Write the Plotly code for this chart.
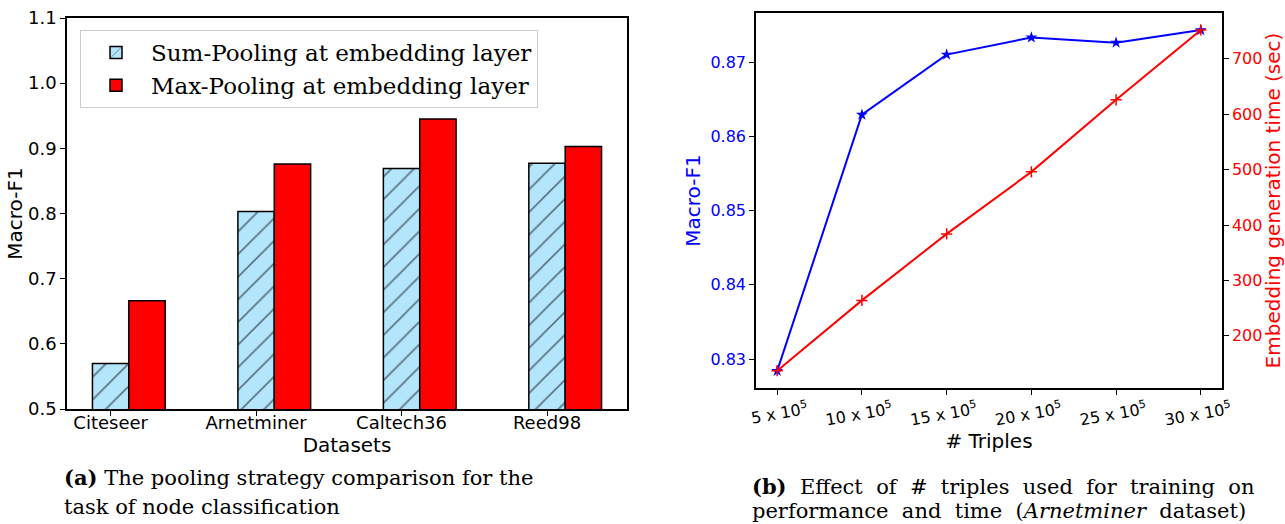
import plotly.graph_objects as go

# ---------------- data ----------------
datasets = ["Citeseer", "Arnetminer", "Caltech36", "Reed98"]
sum_pooling = [0.570, 0.803, 0.869, 0.877]
max_pooling = [0.666, 0.876, 0.945, 0.903]

triples = [5, 10, 15, 20, 25, 30]          # in units of 10^5
triple_labels = ["5 x 10<sup>5</sup>", "10 x 10<sup>5</sup>", "15 x 10<sup>5</sup>",
                 "20 x 10<sup>5</sup>", "25 x 10<sup>5</sup>", "30 x 10<sup>5</sup>"]
macro_f1 = [0.8284, 0.8629, 0.8710, 0.8733, 0.8726, 0.8743]
emb_time = [137, 264, 384, 496, 626, 752]

left_yticks = [0.5, 0.6, 0.7, 0.8, 0.9, 1.0, 1.1]
f1_ticks = [0.83, 0.84, 0.85, 0.86, 0.87]
time_ticks = [200, 300, 400, 500, 600, 700]

W, H = 1285, 524
SANS = "DejaVu Sans"
SERIF = "DejaVu Serif"
CAP = "DejaVu Serif"
SP = " &nbsp;"   # widened word gap to mimic the justified caption lines

def px_x(p):
    return p / W

def px_y(p):
    return 1 - p / H

pos = list(range(len(datasets)))
bar_w = 0.25

fig = go.Figure()

fig.add_trace(go.Bar(
    x=pos, y=sum_pooling, width=bar_w, name="Sum-Pooling at embedding layer",
    marker=dict(color="#b3e5fc", line=dict(color="black", width=1.5),
                pattern=dict(shape="/", fgcolor="#000000", size=16, solidity=0.1,
                             fillmode="overlay")),
    xaxis="x", yaxis="y",
))
fig.add_trace(go.Bar(
    x=[p + bar_w for p in pos], y=max_pooling, width=bar_w,
    name="Max-Pooling at embedding layer",
    marker=dict(color="#ff0000", line=dict(color="black", width=1.5)),
    xaxis="x", yaxis="y",
))

fig.add_trace(go.Scatter(
    x=triples, y=macro_f1, mode="lines+markers", showlegend=False,
    line=dict(color="#0000ff", width=2),
    marker=dict(symbol="star", size=9, color="#0000ff"),
    xaxis="x2", yaxis="y2",
))
fig.add_trace(go.Scatter(
    x=triples, y=emb_time, mode="lines+markers", showlegend=False,
    line=dict(color="#ff0000", width=2),
    marker=dict(symbol="cross-thin", size=8, line=dict(color="#ff0000", width=1.5)),
    xaxis="x2", yaxis="y3",
))

axis_common = dict(showgrid=False, zeroline=False, showline=True, linecolor="black",
                   linewidth=1.5, ticks="outside", ticklen=5, tickwidth=1.2,
                   tickcolor="black", automargin=False)

fig.update_layout(
    width=W, height=H,
    margin=dict(l=0, r=0, t=0, b=0, autoexpand=False),
    paper_bgcolor="white", plot_bgcolor="white",
    barmode="overlay",
    showlegend=True,
    legend=dict(x=px_x(80), y=px_y(30), xanchor="left", yanchor="top",
                bordercolor="#cccccc", borderwidth=1, bgcolor="rgba(255,255,255,0.85)",
                font=dict(family=SERIF, size=23, color="black"),
                itemwidth=60, tracegroupgap=4),
    xaxis=dict(domain=[px_x(67), px_x(627)], range=[-0.3, 3.55], mirror=True,
               tickvals=pos, ticktext=datasets, ticklabelstandoff=-8,
               tickfont=dict(family=SANS, size=18, color="black"),
               title=dict(text="Datasets", font=dict(family=SANS, size=20, color="black"),
                          standoff=2),
               anchor="y", **axis_common),
    yaxis=dict(domain=[px_y(409), px_y(18)], range=[0.5, 1.1], mirror=True,
               tickvals=left_yticks, tickformat=".1f",
               tickfont=dict(family=SANS, size=18, color="black"),
               title=dict(text="Macro-F1", font=dict(family=SANS, size=20, color="black"),
                          standoff=0),
               anchor="x", **axis_common),
    xaxis2=dict(domain=[px_x(756), px_x(1222)], range=[3.75, 31.25], mirror=True,
                tickvals=triples, ticktext=triple_labels, tickangle=-10,
                ticklabelshift=30,
                tickfont=dict(family=SANS, size=16, color="black"),
                title=dict(text="# Triples", font=dict(family=SANS, size=20, color="black"),
                           standoff=6),
                anchor="y2", **axis_common),
    yaxis2=dict(domain=[px_y(388), px_y(13)], range=[0.8261, 0.8766],
                tickvals=f1_ticks, tickformat=".2f",
                tickfont=dict(family=SANS, size=16, color="#0000ff"),
                title=dict(text="Macro-F1", font=dict(family=SANS, size=20, color="#0000ff"),
                           standoff=4),
                anchor="x2", **axis_common),
    yaxis3=dict(range=[105.9, 782.7], overlaying="y2", side="right", anchor="x2",
                tickvals=time_ticks,
                tickfont=dict(family=SANS, size=16, color="#ff0000"),
                title=dict(text="Embedding generation time (sec)",
                           font=dict(family=SANS, size=20, color="#ff0000"), standoff=6),
                **axis_common),
)

captions = [
    ("<b>(a)</b> The pooling strategy comparison for the", 62, 477),
    ("task of node classification", 62, 507),
    ("<b>(b)</b>" + SP + "Effect" + SP + "of" + SP + "#" + SP + "triples" + SP + "used"
     + SP + "for" + SP + "training" + SP + "on", 750, 486),
    ("performance" + SP + "and" + SP + "time" + SP + "(<i>Arnetminer</i>" + SP
     + "dataset)", 750, 511),
]
for text, x, y in captions:
    fig.add_annotation(text=text, xref="paper", yref="paper", x=px_x(x), y=px_y(y),
                       xanchor="left", yanchor="middle", showarrow=False,
                       font=dict(family=CAP, size=21, color="black"))

fig.write_html("out.html")
